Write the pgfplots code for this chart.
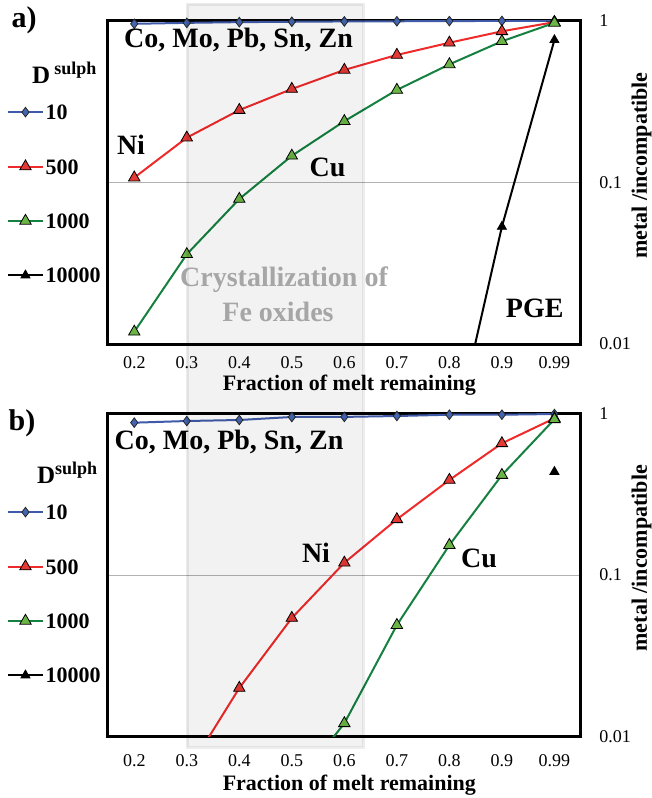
\documentclass[border=0pt]{standalone}
\usepackage{fontspec}
\setmainfont{Liberation Serif}
\usepackage{pgfplots}
\usepackage{pgfplotstable}
\pgfplotsset{compat=1.18}

\definecolor{blueline}{HTML}{3F5AA8}
\definecolor{bluefill}{HTML}{4466B0}
\definecolor{redline}{HTML}{EE2A2A}
\definecolor{redfill}{HTML}{E53935}
\definecolor{greenline}{HTML}{15803F}
\definecolor{greenfill}{HTML}{6AB545}
\definecolor{oxgray}{HTML}{A6A6A6}

\newcommand\lab{\fontsize{14}{14}\selectfont\bfseries}

% x = category index (0.2,0.3,...,0.9,0.99), y = metal/incompatible
\pgfplotstableread{
x y
0 0.957
1 0.970
2 0.980
3 0.985
4 0.990
5 0.992
6 0.995
7 0.997
8 1.0
}\blueA
\pgfplotstableread{
x y
0 0.107
1 0.189
2 0.280
3 0.378
4 0.496
5 0.614
6 0.731
7 0.860
8 0.98
}\redA
\pgfplotstableread{
x y
0 0.0119
1 0.0359
2 0.0789
3 0.146
4 0.239
5 0.373
6 0.537
7 0.746
8 0.97
}\greenA
\pgfplotstableread{
x y
6 0.002
7 0.0532
8 0.76
}\blackA
\pgfplotstableread{
x y
0 0.875
1 0.896
2 0.909
3 0.949
4 0.950
5 0.962
6 0.980
7 0.980
8 0.990
}\blueB
\pgfplotstableread{
x y
0 0.0015
1 0.006
2 0.0200
3 0.0542
4 0.119
5 0.221
6 0.387
7 0.652
8 0.931
}\redB
\pgfplotstableread{
x y
3 0.0047
4 0.0121
5 0.049
6 0.153
7 0.415
8 0.918
}\greenB
\pgfplotstableread{
x y
8 0.435
}\blackB

\pgfplotsset{
  melt/.style={
    scale only axis, width=236.35pt, height=161.65pt,
    xmin=-0.5, xmax=8.5, ymin=0.01, ymax=1,
    xtick={0,...,8}, xticklabels={0.2,0.3,0.4,0.5,0.6,0.7,0.8,0.9,0.99},
    ytick={0.01,0.1,1}, yticklabels={0.01,0.1,1},
    yticklabel pos=right,
    major tick length=0pt, minor tick length=0pt,
    ymajorgrids, grid style={black!30, line width=0.5pt},
    axis line style={line width=1.5pt},
    tick label style={font=\fontsize{9}{9}\selectfont},
    /pgf/number format/assume math mode=true,
    yticklabel style={xshift=5.8pt},
    xticklabel style={anchor=center},
    xlabel={Fraction of melt remaining},
    ylabel={metal /incompatible},
    label style={font=\fontsize{11}{11}\selectfont\bfseries},
    ylabel style={at={(rel axis cs:1,0.552)}, anchor=center, yshift=-30.5pt},
    clip mode=individual,
    legend cell align=left,
    legend style={draw=none, fill=none, at={(rel axis cs:0,1)}, anchor=north west,
      xshift=-50.5pt, inner sep=0pt, row sep=17.6pt,
      font=\fontsize{11}{11}\selectfont\bfseries,
      nodes={inner sep=1pt, text height=7.6pt, text depth=0pt}},
  },
  sBlue/.style={color=blueline, line width=1pt, mark=diamond*, mark size=2.4pt,
    mark options={fill=bluefill, draw=black!85, line width=0.4pt}},
  sRed/.style={color=redline, line width=1pt, mark=triangle*, mark size=3.3pt,
    mark options={fill=redfill, draw=black, line width=0.4pt}},
  sGreen/.style={color=greenline, line width=1pt, mark=triangle*, mark size=3.3pt,
    mark options={fill=greenfill, draw=black, line width=0.4pt}},
  sBlack/.style={color=black, line width=1pt, mark=triangle*, mark size=2.6pt,
    mark options={fill=black, draw=black, line width=0.4pt}},
  % marks only where the value lies inside the axis (ln 0.01 = -4.6052)
  inside/.style={only marks, restrict y to domain=-4.6052:1},
}

\begin{document}
\begin{tikzpicture}
\useasboundingbox (0,0) rectangle (326pt,-399pt);

% panel a
\begin{axis}[ymode=log, melt, at={(54pt,-172pt)}, anchor=south west,
  xticklabel style={yshift=-9.3pt},
  xlabel style={at={(rel axis cs:0.5,0)}, anchor=center, yshift=-20.5pt, xshift=2.5pt},
  legend style={yshift=-40.7pt}]
\addlegendimage{sBlue}\addlegendentry{10}
\addlegendimage{sRed}\addlegendentry{500}
\addlegendimage{sGreen}\addlegendentry{1000}
\addlegendimage{sBlack}\addlegendentry{10000}
\addplot[sBlue, forget plot] table {\blueA};
\addplot[sRed, forget plot] table {\redA};
\addplot[sGreen, forget plot] table {\greenA};
\addplot[sBlack, mark=none, forget plot] table {\blackA};
\addplot[sBlack, inside, forget plot] table {\blackA};
\end{axis}

% panel b
\begin{axis}[ymode=log, melt, at={(54pt,-368.35pt)}, anchor=south west, height=161.7pt,
  xticklabel style={yshift=-12pt},
  xlabel style={at={(rel axis cs:0.5,0)}, anchor=center, yshift=-24pt, xshift=2.5pt},
  legend style={yshift=-44.4pt}]
\addlegendimage{sBlue}\addlegendentry{10}
\addlegendimage{sRed}\addlegendentry{500}
\addlegendimage{sGreen}\addlegendentry{1000}
\addlegendimage{sBlack}\addlegendentry{10000}
\addplot[sBlue, forget plot] table {\blueB};
\addplot[sRed, mark=none, forget plot] table {\redB};
\addplot[sRed, inside, forget plot] table {\redB};
\addplot[sGreen, mark=none, forget plot] table {\greenB};
\addplot[sGreen, inside, forget plot] table {\greenB};
\addplot[sBlack, forget plot] table {\blackB};
\end{axis}

% shaded band of Fe oxide crystallization
\fill[black, fill opacity=0.05, draw opacity=0.07, draw=black, line width=1.5pt]
  (93.65pt,-2.15pt) rectangle (181.65pt,-373.5pt);

\node[font=\fontsize{15}{15}\selectfont\bfseries] at (12pt,-10pt) {a)};
\node[font=\fontsize{15}{15}\selectfont\bfseries] at (11pt,-211.5pt) {b)};

\node[anchor=base west, font=\fontsize{12.5}{12.5}\selectfont\bfseries] at (12.5pt,-41.5pt)
  {D\,\raisebox{4.5pt}{\fontsize{9}{9}\selectfont sulph}};
\node[anchor=base west, font=\fontsize{12.5}{12.5}\selectfont\bfseries] at (15pt,-241.7pt)
  {D\raisebox{4.5pt}{\fontsize{9}{9}\selectfont sulph}};

\node[font=\lab] at (119.25pt,-20pt) {Co, Mo, Pb, Sn, Zn};
\node[font=\lab] at (65.5pt,-72.5pt) {Ni};
\node[font=\lab] at (163.75pt,-83.5pt) {Cu};
\node[font=\lab] at (267.35pt,-154pt) {PGE};
\node[font=\lab, text=oxgray] at (142pt,-140pt) {Crystallization of};
\node[font=\lab, text=oxgray] at (139pt,-156pt) {Fe oxides};

\node[font=\lab] at (114.5pt,-220.85pt) {Co, Mo, Pb, Sn, Zn};
\node[font=\lab] at (158pt,-276.5pt) {Ni};
\node[font=\lab] at (239.5pt,-279pt) {Cu};
\end{tikzpicture}
\end{document}
